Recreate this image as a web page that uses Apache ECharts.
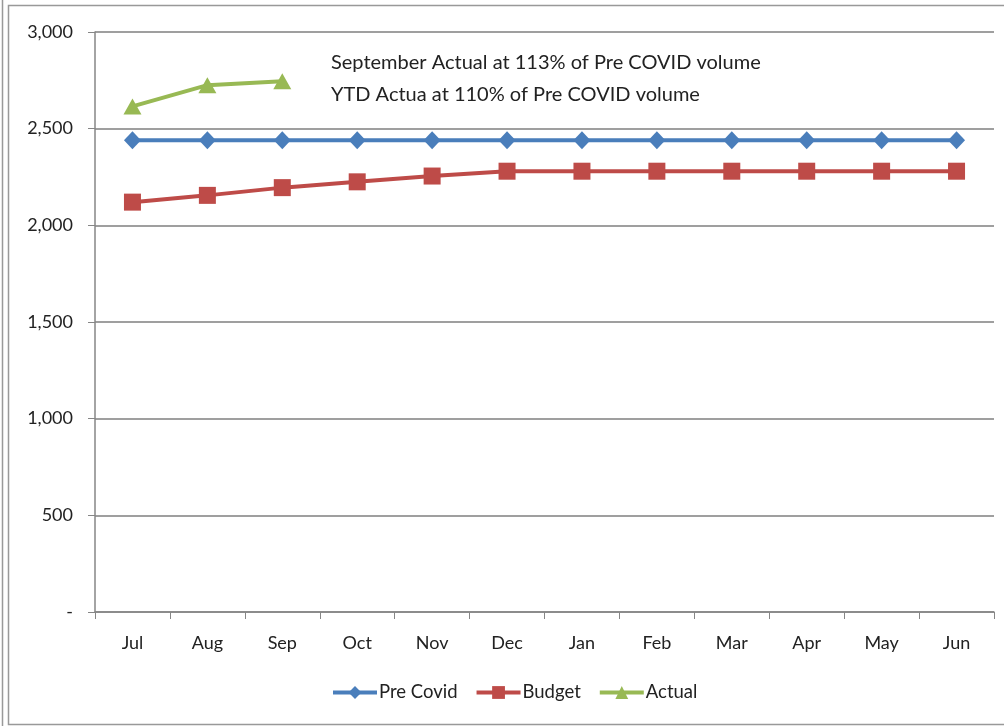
<!DOCTYPE html>
<html>
<head>
<meta charset="utf-8">
<script src="https://cdn.jsdelivr.net/npm/echarts@6/dist/echarts.min.js"></script>
<style>
  html, body { margin: 0; padding: 0; background: #fff; }
  #main { width: 1004px; height: 726px; }
</style>
</head>
<body>
<div id="main"></div>
<script>
var months = ['Jul', 'Aug', 'Sep', 'Oct', 'Nov', 'Dec', 'Jan', 'Feb', 'Mar', 'Apr', 'May', 'Jun'];
var preCovid = [2440, 2440, 2440, 2440, 2440, 2440, 2440, 2440, 2440, 2440, 2440, 2440];
var budget = [2120, 2155, 2195, 2225, 2255, 2280, 2280, 2280, 2280, 2280, 2280, 2280];
var actual = [2615, 2725, 2745];
var notes = ['September Actual at 113% of Pre COVID volume', 'YTD Actua at 110% of Pre COVID volume'];

var myChart = echarts.init(document.getElementById('main'));
var font = 'Lato, "Open Sans", sans-serif';

var option = {
  animation: false,
  textStyle: { fontFamily: font },
  grid: { left: 95, right: 10, top: 32, bottom: 114 },
  legend: {
    bottom: 19,
    left: 326,
    itemWidth: 44,
    itemHeight: 16,
    itemGap: 17,
    lineStyle: { width: 4 },
    textStyle: { fontSize: 18.5, color: '#222', fontFamily: font, padding: [0, 0, 0, -3] },
    data: ['Pre Covid', 'Budget', 'Actual']
  },
  xAxis: {
    type: 'category',
    data: months,
    boundaryGap: true,
    axisLine: { lineStyle: { color: '#868686', width: 1.5 } },
    axisTick: { show: true, length: 7, lineStyle: { color: '#868686' } },
    axisLabel: { color: '#222', fontSize: 18, margin: 22, fontFamily: font }
  },
  yAxis: {
    type: 'value',
    min: 0,
    max: 3000,
    interval: 500,
    axisLine: { show: true, lineStyle: { color: '#868686', width: 1.5 } },
    axisTick: { show: true, length: 7, inside: false, lineStyle: { color: '#868686' } },
    splitLine: { lineStyle: { color: '#7f7f7f', width: 1.5 } },
    axisLabel: {
      color: '#222', fontSize: 18, margin: 22, fontFamily: font,
      formatter: function (v) { return v === 0 ? '-' : v.toLocaleString('en-US'); }
    }
  },
  series: [
    {
      name: 'Pre Covid', type: 'line', data: preCovid,
      symbol: 'diamond', symbolSize: [17, 18],
      itemStyle: { color: '#4a7ebb' },
      lineStyle: { width: 4, color: '#4a7ebb' }
    },
    {
      name: 'Budget', type: 'line', data: budget,
      symbol: 'rect', symbolSize: 17,
      itemStyle: { color: '#be4b48' },
      lineStyle: { width: 4, color: '#be4b48' }
    },
    {
      name: 'Actual', type: 'line', data: actual,
      symbol: 'triangle', symbolSize: [18, 16],
      itemStyle: { color: '#98b954' },
      lineStyle: { width: 4, color: '#98b954' }
    }
  ],
  graphic: [
    { type: 'rect', shape: { x: 2.5, y: 0, width: 0, height: 726 }, style: { stroke: '#999', lineWidth: 1.5, fill: null } },
    { type: 'rect', shape: { x: 8.5, y: 5.5, width: 1000, height: 719 }, style: { stroke: '#999', lineWidth: 1.5, fill: null } },
    { type: 'text', left: 331, top: 53, style: { text: notes[0], fontSize: 20, fill: '#222', fontFamily: font } },
    { type: 'text', left: 331, top: 85, style: { text: notes[1], fontSize: 20, fill: '#222', fontFamily: font } }
  ]
};

myChart.setOption(option);
</script>
</body>
</html>
